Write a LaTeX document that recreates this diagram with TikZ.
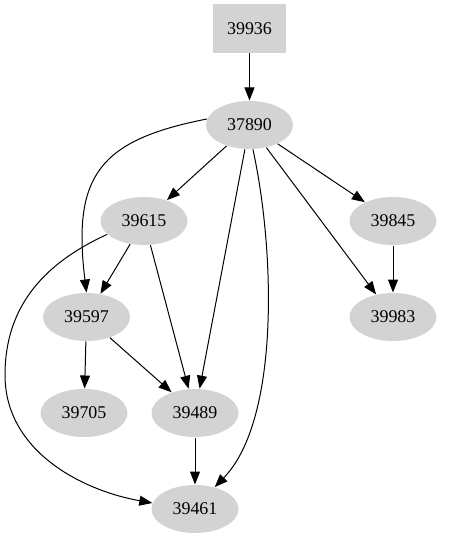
\documentclass[tikz,border=0pt]{standalone}
\usepackage{fontspec}
\setmainfont{Liberation Serif}
\usetikzlibrary{shapes.geometric, arrows.meta}
\definecolor{nodegray}{RGB}{211,211,211}

\begin{document}
\begin{tikzpicture}[
    x=1bp, y=-1bp, line width=1bp,
    every node/.style={font=\fontsize{18}{20}\selectfont},
    ellnode/.style={ellipse, fill=nodegray, minimum width=87bp,
                    minimum height=48bp, inner sep=0pt},
    boxnode/.style={rectangle, fill=nodegray, minimum width=73bp,
                    minimum height=49bp, inner sep=0pt},
    arr/.style={-{Triangle[length=13bp, width=10bp]}},
]
\useasboundingbox (0,0) rectangle (454,539);

\node[boxnode] (n39936) at (249.5,28.5) {39936};
\node[ellnode] (n37890) at (249.5,125)  {37890};
\node[ellnode] (n39615) at (144,221)    {39615};
\node[ellnode] (n39845) at (393,221)    {39845};
\node[ellnode] (n39597) at (86.5,317)   {39597};
\node[ellnode] (n39983) at (393,317)    {39983};
\node[ellnode] (n39705) at (84,413)     {39705};
\node[ellnode] (n39489) at (195,413)    {39489};
\node[ellnode] (n39461) at (195,509)    {39461};

\coordinate (bend) at (5,375);

\draw[arr] (n39936) -- (n37890);
\draw[arr] (n37890) -- (n39615);
\draw[arr] (n37890) -- (n39845);
\draw[arr] (n37890) -- (n39489);
\draw[arr] (n37890) -- (n39983);
\draw[arr] (n37890.172) .. controls (100,140) and (72,175) .. (n39597.north);
\draw[arr] (n37890.-82) .. controls (275,250) and (280,420) .. (n39461.48);
\draw[arr] (n39615) -- (n39597);
\draw[arr] (n39615) -- (n39489);
\draw (n39615.200) .. controls (40,265) and (5,310) .. (bend);
\draw[arr] (bend) .. controls (5,450) and (80,490) .. (n39461.172);
\draw[arr] (n39845) -- (n39983);
\draw[arr] (n39597) -- (n39705);
\draw[arr] (n39597) -- (n39489);
\draw[arr] (n39489) -- (n39461);

\end{tikzpicture}
\end{document}
